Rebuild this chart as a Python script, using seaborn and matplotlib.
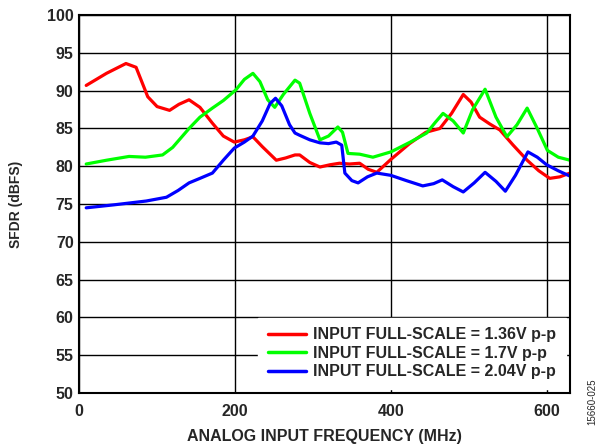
import pandas as pd
import matplotlib
matplotlib.use("Agg")
import matplotlib.pyplot as plt
import seaborn as sns

# SFDR vs analog input frequency
freq_136 = [9, 35, 60, 73, 88, 100, 116, 128, 141, 155, 171, 185, 199, 212, 223, 235, 253, 265, 277, 283,
            296, 309, 322, 334, 347, 360, 371, 382, 400, 424, 445, 463, 478, 493, 503, 514, 527, 540,
            557, 575, 590, 604, 617, 630]
sfdr_136 = [90.7, 92.3, 93.6, 93.1, 89.2, 87.9, 87.4, 88.2, 88.8, 87.8, 85.7, 84.0, 83.2, 83.5, 83.9, 82.6,
            80.8, 81.1, 81.5, 81.5, 80.5, 79.9, 80.2, 80.4, 80.3, 80.4, 79.6, 79.2, 80.9, 83.0, 84.5, 85.0,
            87.0, 89.5, 88.5, 86.5, 85.6, 84.8, 82.8, 80.8, 79.4, 78.4, 78.6, 79.1]

freq_170 = [9, 35, 64, 85, 107, 120, 141, 155, 171, 185, 201, 212, 223, 232, 242, 251, 262, 277, 283,
            296, 309, 320, 332, 338, 345, 360, 377, 400, 425, 446, 457, 467, 480, 493, 505, 521, 535,
            549, 562, 575, 588, 601, 615, 630]
sfdr_170 = [80.3, 80.8, 81.3, 81.2, 81.5, 82.5, 85.0, 86.5, 87.7, 88.7, 90.1, 91.5, 92.3, 91.2, 88.8, 87.8,
            89.5, 91.4, 91.0, 87.0, 83.5, 84.0, 85.2, 84.5, 81.7, 81.6, 81.2, 81.9, 83.2, 84.4, 85.8,
            87.0, 86.0, 84.4, 87.5, 90.2, 86.5, 83.9, 85.5, 87.7, 85.0, 82.1, 81.2, 80.8]

freq_204 = [9, 45, 86, 112, 127, 141, 155, 171, 185, 199, 212, 223, 235, 245, 252, 260, 270, 277, 283,
            296, 309, 320, 330, 337, 341, 350, 358, 370, 382, 400, 420, 441, 455, 466, 480, 493, 507,
            521, 535, 547, 560, 576, 588, 600, 615, 630]
sfdr_204 = [74.5, 74.9, 75.4, 75.9, 76.8, 77.8, 78.4, 79.1, 80.8, 82.4, 83.2, 84.0, 86.0, 88.3, 89.0, 88.0,
            85.5, 84.4, 84.1, 83.5, 83.1, 83.0, 83.2, 82.8, 79.1, 78.1, 77.8, 78.6, 79.1, 78.8, 78.1,
            77.4, 77.7, 78.2, 77.3, 76.6, 77.8, 79.2, 78.0, 76.7, 78.8, 81.9, 81.2, 80.2, 79.4, 78.7]

labels = ["INPUT FULL-SCALE = 1.36V p-p",
          "INPUT FULL-SCALE = 1.7V p-p",
          "INPUT FULL-SCALE = 2.04V p-p"]
colors = ["#ff0000", "#00ff00", "#0000ff"]

df = pd.concat([
    pd.DataFrame({"freq": freq_136, "sfdr": sfdr_136, "series": labels[0]}),
    pd.DataFrame({"freq": freq_170, "sfdr": sfdr_170, "series": labels[1]}),
    pd.DataFrame({"freq": freq_204, "sfdr": sfdr_204, "series": labels[2]}),
])

sns.set_style("white")
plt.rcParams["font.family"] = ["Liberation Sans", "DejaVu Sans"]
plt.rcParams["font.weight"] = "bold"

fig = plt.figure(figsize=(6, 4.46), dpi=100)
ax = fig.add_axes([0.132, 0.119, 0.818, 0.847])

sns.lineplot(data=df, x="freq", y="sfdr", hue="series", palette=colors,
             linewidth=2.3, sort=False, estimator=None, ax=ax)

ax.set_xlim(0, 630)
ax.set_ylim(50, 100)
ax.set_xticks([0, 200, 400, 600])
ax.set_yticks(range(50, 101, 5))
ax.grid(True, color="black", linewidth=1.0)
ax.set_axisbelow(True)
ax.tick_params(axis="y", length=0, labelsize=11.5, pad=4)
ax.tick_params(axis="x", length=0, labelsize=11.5, pad=8)
for lab in ax.get_xticklabels() + ax.get_yticklabels():
    lab.set_fontweight("bold")
for s in ax.spines.values():
    s.set_color("black")
    s.set_linewidth(1.5)

ax.set_xlabel("ANALOG INPUT FREQUENCY (MHz)", fontsize=11.5, fontweight="bold", labelpad=7)
ax.set_ylabel("SFDR (dBFS)", fontsize=10, fontweight="bold", labelpad=17)

leg = ax.legend(loc="lower right", frameon=True, fancybox=False, fontsize=11.5,
                handlelength=2.4, handletextpad=0.45, labelspacing=0.22,
                borderpad=0.6, borderaxespad=0.25)
leg.get_frame().set_edgecolor("white")
leg.get_frame().set_facecolor("white")
leg.get_frame().set_alpha(1)
for t in leg.get_texts():
    t.set_fontweight("bold")
for h in leg.get_lines():
    h.set_linewidth(2.5)

fig.text(0.988, 0.10, "15660-025", rotation=90, fontsize=7, fontweight="normal",
         ha="center", va="center")

fig.savefig("out.png", dpi=100)
